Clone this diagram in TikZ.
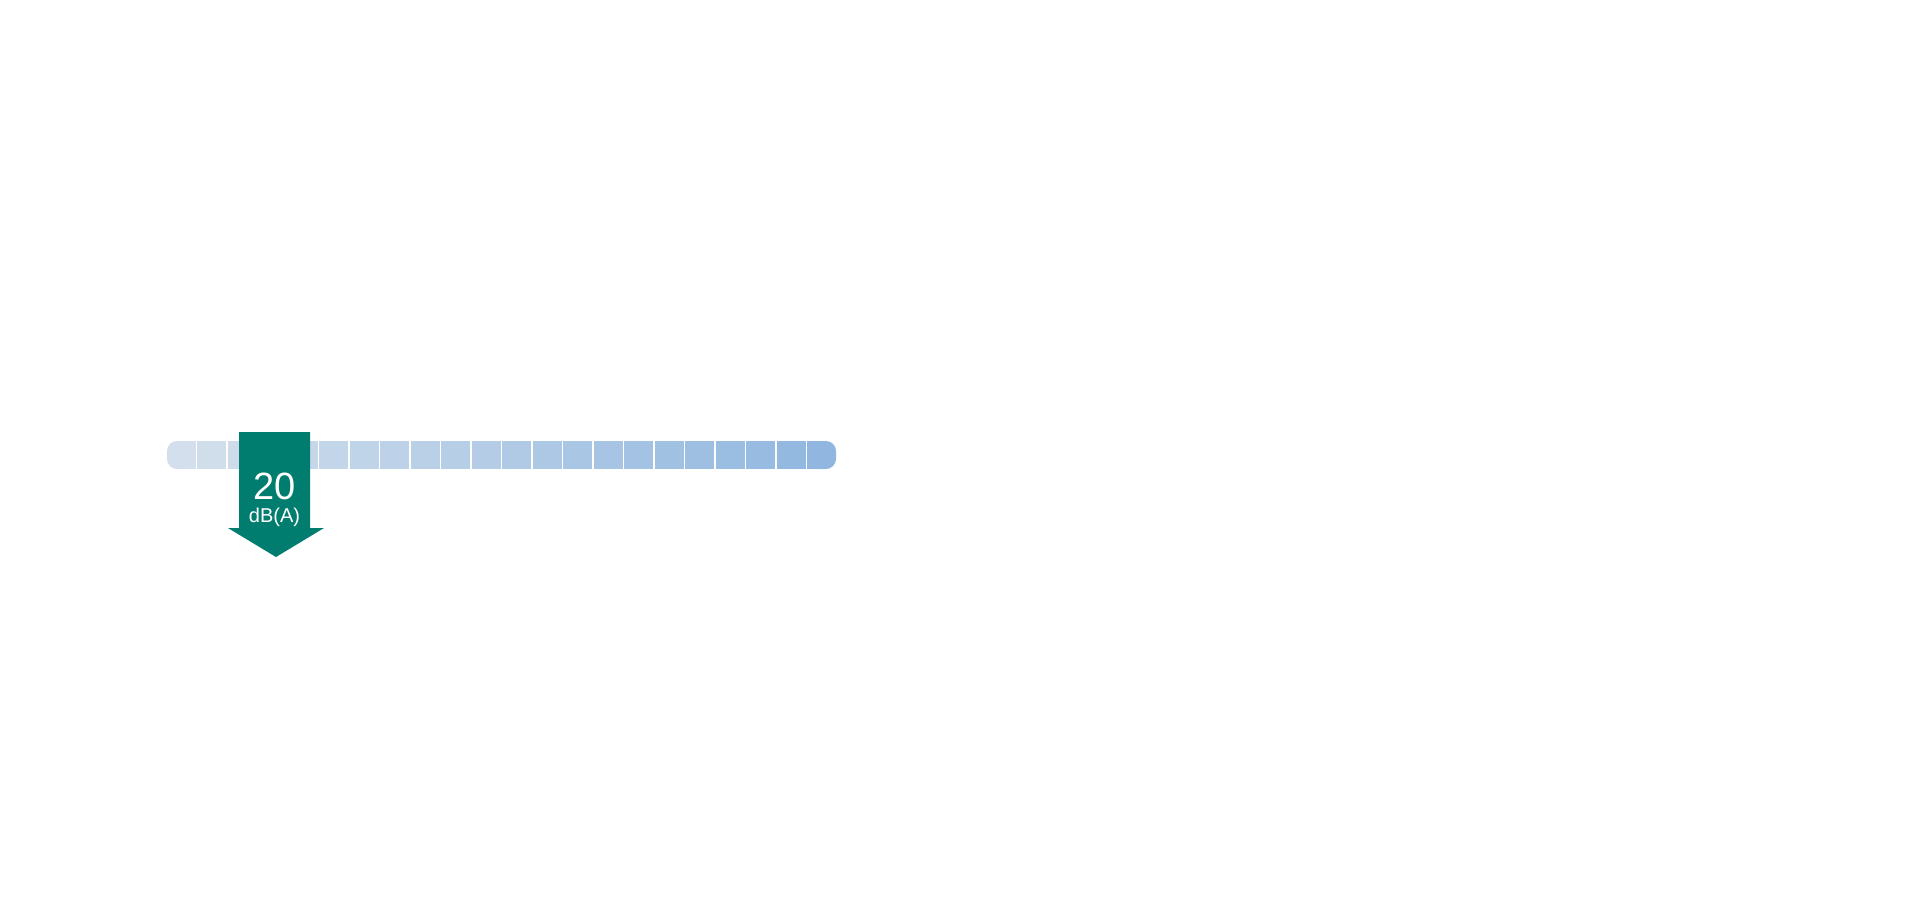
\documentclass[tikz,border=0pt]{standalone}
\usepackage{fontspec}
\setmainfont{Liberation Sans}
\usepackage{tikz}
\usetikzlibrary{positioning}
\definecolor{barlo}{HTML}{D3DFEC}
\definecolor{barhi}{HTML}{91B7E0}
\definecolor{arrowgreen}{HTML}{007D6E}
\tikzset{
  seg/.style = {inner sep=0pt, minimum width=14.5pt, minimum height=14pt},
}
\begin{document}
\begin{tikzpicture}[x=0.5pt, y=-0.5pt]
\useasboundingbox (0,0) rectangle (1920,900);
% level bar, 22 segments
\foreach \i in {1,...,22} {
  \pgfmathsetmacro{\mix}{100*(\i-1)/21}
  \colorlet{segcol}{barhi!\mix!barlo}
  \ifnum\i=1
    \fill[segcol, rounded corners=5pt] (167,441) rectangle (196,469);
    \fill[segcol] (186,441) rectangle (196,469);
  \else\ifnum\i=22
    \fill[segcol, rounded corners=5pt] (807,441) rectangle (836,469);
    \fill[segcol] (807,441) rectangle (817,469);
  \else
    \node (s\i) [seg, fill=segcol] at ({181.5+30.48*(\i-1)},455) {};
  \fi\fi
}
% level marker
\fill[arrowgreen] (239,432) -- (310,432) -- (310,528) -- (324,528)
   -- (276,557) -- (228,528) -- (239,528) -- cycle;
\node (val) [text=white, font=\fontsize{19pt}{20pt}\selectfont] at (274.5,486) {20};
\node (unit) [text=white, font=\fontsize{10pt}{11pt}\selectfont, below=-3pt of val] {dB(A)};
\end{tikzpicture}
\end{document}
